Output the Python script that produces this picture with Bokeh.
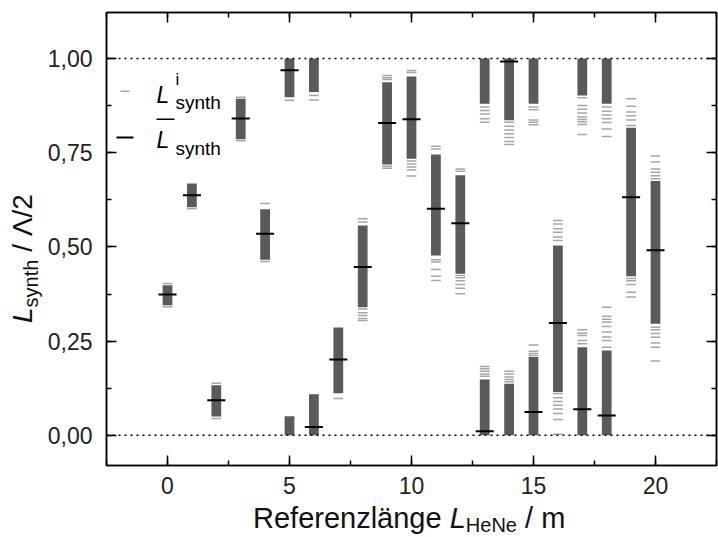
import numpy as np
from bokeh.plotting import figure
from bokeh.models import (Label, Span, LinearAxis, CustomJSTickFormatter,
                          SingleIntervalTicker, BoxAnnotation, Div)
from bokeh.layouts import row, column
from bokeh.embed import file_html
from bokeh.resources import INLINE

# ---------------- data ----------------
ref_len = list(range(21))
mean_val = [0.374, 0.637, 0.093, 0.841, 0.535, 0.969, 0.022, 0.201, 0.447, 0.829,
            0.839, 0.601, 0.563, 0.011, 0.992, 0.062, 0.298, 0.069, 0.053, 0.632, 0.491]

# dense (solid) ranges of the individual values L^i_synth
band_x = [0, 1, 2, 3, 4, 5, 5, 6, 6, 7, 8, 9, 10, 11, 12, 13, 13, 14, 14,
          15, 15, 16, 17, 17, 18, 18, 19, 20]
band_lo = [0.345, 0.605, 0.050, 0.786, 0.466, 0.897, 0.000, 0.911, 0.000, 0.112,
           0.340, 0.719, 0.734, 0.477, 0.429, 0.880, 0.000, 0.836, 0.000,
           0.880, 0.000, 0.115, 0.902, 0.000, 0.880, 0.000, 0.422, 0.296]
band_hi = [0.398, 0.668, 0.133, 0.893, 0.600, 1.000, 0.051, 1.000, 0.109, 0.286,
           0.557, 0.937, 0.952, 0.745, 0.690, 1.000, 0.148, 1.000, 0.137,
           1.000, 0.208, 0.504, 1.000, 0.234, 1.000, 0.225, 0.816, 0.675]

# isolated individual values L^i_synth (per reference length)
sample_ticks = [
    [0.403, 0.341],
    [0.601],
    [0.138, 0.045],
    [0.897, 0.782],
    [0.615, 0.461],
    [0.889],
    [0.902, 0.890],
    [0.098],
    [0.575, 0.566, 0.335, 0.325, 0.318, 0.310, 0.305],
    [0.955, 0.949, 0.944, 0.714, 0.709],
    [0.968, 0.963, 0.728, 0.720, 0.712, 0.704, 0.688],
    [0.767, 0.760, 0.466, 0.460, 0.440, 0.422, 0.411],
    [0.707, 0.701, 0.424, 0.418, 0.410, 0.400, 0.390, 0.376],
    [0.871, 0.862, 0.853, 0.840, 0.831, 0.183, 0.177, 0.170, 0.163, 0.157],
    [0.831, 0.820, 0.810, 0.800, 0.790, 0.780, 0.772, 0.170, 0.163, 0.155, 0.148, 0.142],
    [0.871, 0.864, 0.837, 0.831, 0.824, 0.240, 0.223, 0.217, 0.212],
    [0.570, 0.561, 0.548, 0.539, 0.526, 0.517, 0.111, 0.100, 0.090, 0.080, 0.070,
     0.058, 0.042, 0.003],
    [0.896, 0.875, 0.865, 0.855, 0.845, 0.838, 0.832, 0.825, 0.798, 0.280, 0.271,
     0.265, 0.252, 0.243],
    [0.871, 0.860, 0.850, 0.840, 0.830, 0.813, 0.793, 0.340, 0.316, 0.308, 0.301,
     0.289, 0.274, 0.261, 0.252, 0.234],
    [0.893, 0.873, 0.858, 0.848, 0.837, 0.822, 0.416, 0.410, 0.400, 0.380, 0.367],
    [0.741, 0.725, 0.707, 0.698, 0.689, 0.681, 0.287, 0.280, 0.270, 0.260, 0.245,
     0.234, 0.197],
]

x_ticks_major = 5
y_ticks_major = 0.25

# ---------------- figure ----------------
FONT = "Liberation Sans"
BAR_HALF = 0.2
MEAN_HALF = 0.37

YDIV_W = 44
PLOT_W = 718 - YDIV_W
PLOT_H = 503
XDIV_H = 537 - PLOT_H

p = figure(width=PLOT_W, height=PLOT_H, x_range=(-2.5, 22.5), y_range=(-0.08, 1.122),
           output_backend="svg", toolbar_location=None,
           min_border_left=105 - YDIV_W, min_border_right=2, min_border_top=12,
           min_border_bottom=38)
p.grid.visible = False
p.outline_line_color = "black"
p.outline_line_width = 1.5
p.background_fill_color = "white"
p.border_fill_color = "white"

# bands
p.quad(left=np.array(band_x) - BAR_HALF, right=np.array(band_x) + BAR_HALF,
       bottom=band_lo, top=band_hi, fill_color="#5a5a5a", line_color=None)

# individual ticks
tx = np.concatenate([[x] * len(v) for x, v in zip(ref_len, sample_ticks)]).astype(float)
ty = np.concatenate([v for v in sample_ticks]).astype(float)
p.segment(x0=tx - BAR_HALF, x1=tx + BAR_HALF, y0=ty, y1=ty,
          line_color="#a6a6a6", line_width=1.5)

# means
mx = np.array(ref_len, dtype=float)
p.segment(x0=mx - MEAN_HALF, x1=mx + MEAN_HALF, y0=mean_val, y1=mean_val,
          line_color="black", line_width=2)

# dotted reference lines
for loc in (0.0, 1.0):
    p.add_layout(Span(location=loc, dimension="width", line_color="black",
                      line_dash="2 4", line_width=1.5))

# axes styling
yfmt = CustomJSTickFormatter(code="return tick.toFixed(2).replace('.', ',');")
blank = CustomJSTickFormatter(code="return '';")


def style_axis(ax, show_labels):
    ax.axis_line_width = 1.5
    ax.axis_line_color = "black"
    ax.major_tick_in = 10
    ax.major_tick_out = 0
    ax.minor_tick_in = 5
    ax.minor_tick_out = 0
    ax.major_tick_line_width = 1.5
    ax.minor_tick_line_width = 1.5
    ax.major_tick_line_color = "black"
    ax.minor_tick_line_color = "black"
    ax.major_label_text_font = FONT
    ax.major_label_text_font_size = "23px"
    ax.major_label_text_color = "#222222"
    ax.axis_label = None
    if not show_labels:
        ax.major_label_standoff = 0


p.xaxis.ticker = SingleIntervalTicker(interval=x_ticks_major, num_minor_ticks=2)
p.yaxis.ticker = SingleIntervalTicker(interval=y_ticks_major, num_minor_ticks=2)
p.yaxis.formatter = yfmt
style_axis(p.xaxis[0], True)
style_axis(p.yaxis[0], True)
p.xaxis.major_label_standoff = 11
p.yaxis.major_label_standoff = 14

top_ax = LinearAxis(ticker=SingleIntervalTicker(interval=x_ticks_major, num_minor_ticks=2),
                    formatter=blank)
right_ax = LinearAxis(ticker=SingleIntervalTicker(interval=y_ticks_major, num_minor_ticks=2),
                      formatter=blank)
style_axis(top_ax, False)
style_axis(right_ax, False)
p.add_layout(top_ax, "above")
p.add_layout(right_ax, "right")


def txt(text, x, y, size, italic=False, color="black"):
    p.add_layout(Label(x=x, y=y, x_units="screen", y_units="screen", text=text,
                       text_font=FONT, text_font_size=f"{size}px",
                       text_font_style="italic" if italic else "normal",
                       text_align="left", text_baseline="alphabetic",
                       text_color=color))


# legend (frame-relative screen units)
LF = 23
LS = 19
txt("L", 50, 371, LF, italic=True)
txt("i", 69, 386, 17)
txt("synth", 69, 363, LS)
txt("L", 50, 326, LF, italic=True)
txt("synth", 69, 317, LS)
p.add_layout(BoxAnnotation(left=50, right=68, bottom=345.5, top=347,
                           left_units="screen", right_units="screen",
                           top_units="screen", bottom_units="screen",
                           fill_color="black", fill_alpha=1.0, line_color=None))
p.add_layout(BoxAnnotation(left=14, right=23, bottom=373.5, top=375,
                           left_units="screen", right_units="screen",
                           top_units="screen", bottom_units="screen",
                           fill_color="#a6a6a6", fill_alpha=1.0, line_color=None))
p.add_layout(BoxAnnotation(left=10, right=27, bottom=327, top=329,
                           left_units="screen", right_units="screen",
                           top_units="screen", bottom_units="screen",
                           fill_color="black", fill_alpha=1.0, line_color=None))

# axis titles as real HTML text
base = ("position:absolute; white-space:nowrap; font-family:'Liberation Sans'; "
        "color:#111; margin:0; padding:0;")
x_title = (f'<div style="{base} left:{253 - YDIV_W}px; top:1px; font-size:29px; '
           'line-height:29px;">Referenzl\u00e4nge <i>L</i><span style="font-size:20px; '
           'line-height:20px; position:relative; top:4px;">HeNe</span> / m</div>')
y_title = (f'<div style="{base} left:9px; top:323px; font-size:28px; line-height:28px; '
           'transform-origin:0 0; transform:rotate(-90deg);"><i>L</i>'
           '<span style="font-size:20px; position:relative; top:6px;">synth</span>'
           ' / \u039b/2</div>')

xdiv = Div(text=x_title, width=PLOT_W, height=XDIV_H, margin=0,
           styles={"position": "relative", "overflow": "visible"})
ydiv = Div(text=y_title, width=YDIV_W, height=537, margin=0,
           styles={"position": "relative", "overflow": "visible"})

layout = row(ydiv, column(p, xdiv, spacing=0), spacing=0)

open("out.html", "w").write(file_html(layout, INLINE))
